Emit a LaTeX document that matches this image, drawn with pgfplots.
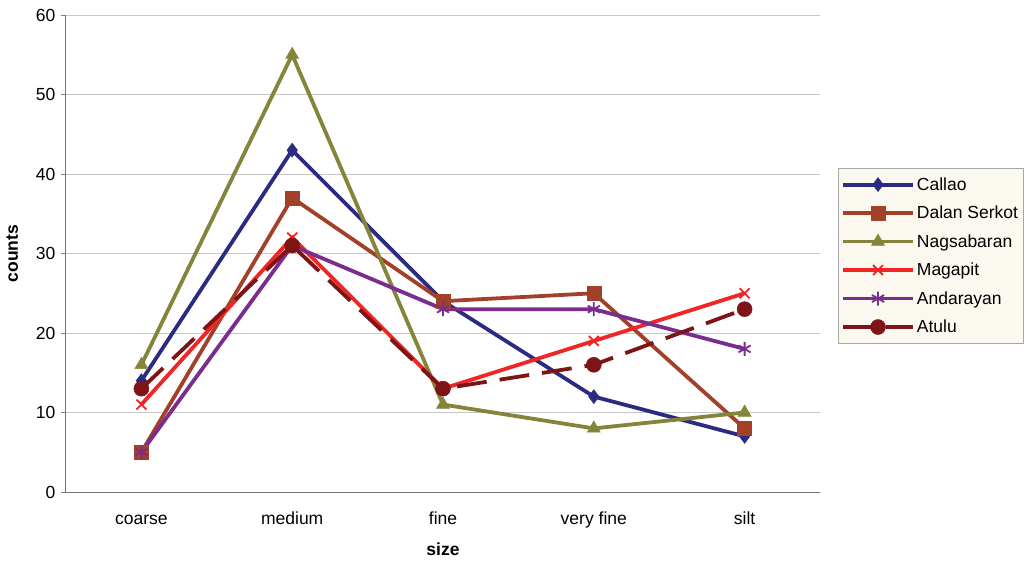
\documentclass[border=0pt]{standalone}
\usepackage{pgfplots}
\pgfplotsset{compat=1.18}
\usepackage{fontspec}
\setmainfont{Liberation Sans}
\definecolor{callao}{HTML}{2B2B82}
\definecolor{dalan}{HTML}{A3402A}
\definecolor{nags}{HTML}{84843A}
\definecolor{maga}{HTML}{F02525}
\definecolor{anda}{HTML}{7B2D8E}
\definecolor{atulu}{HTML}{7F1416}
\definecolor{legbg}{HTML}{FBF8F0}
\begin{document}
\begin{tikzpicture}[x=1pt,y=1pt]
\useasboundingbox (-66,-68) rectangle (966,492);
\begin{axis}[
  at={(0,0)}, anchor=south west,
  scale only axis, width=754pt, height=477pt,
  xmin=-0.5, xmax=4.5, ymin=0, ymax=60,
  xtick={0,1,2,3,4},
  xticklabels={coarse,medium,fine,very fine,silt},
  extra x ticks={0.5,1.5,2.5,3.5},
  extra x tick labels={},
  extra x tick style={major tick length=5pt, tick style={black!50, line width=0.8pt}, grid=none},
  ytick={0,10,...,60},
  axis x line*=bottom, axis y line*=left,
  axis line style={black!55, line width=1pt},
  ymajorgrids, grid style={black!22, line width=0.8pt},
  xtick style={draw=none},
  ytick style={black!50, line width=0.8pt},
  tick align=outside,
  major tick length=5pt,
  tick label style={font=\fontsize{17.5}{21}\selectfont},
  /pgf/number format/assume math mode=true,
  xticklabel style={anchor=base, yshift=-27pt},
  yticklabel style={xshift=-2pt},
  xlabel={\textbf{size}}, ylabel={\textbf{counts}},
  label style={font=\fontsize{17.5}{21}\selectfont},
  xlabel style={yshift=2pt},
  ylabel style={yshift=11pt},
  legend cell align=left,
  legend style={at={(1.0235,0.679)}, anchor=north west,
    fill=legbg, draw=black!35, line width=0.8pt,
    font=\fontsize{17.5}{21}\selectfont,
    row sep=10.3pt, inner xsep=3pt, inner ysep=7pt,
    nodes={inner xsep=2pt}},
  legend image code/.code={
    \draw[mark repeat=2,mark phase=2] plot coordinates {(0pt,0pt) (35pt,0pt) (70pt,0pt)};},
  every axis plot/.append style={line width=3.8pt},
]
\addplot[color=callao, mark=diamond*, mark size=7pt, mark options={solid, line width=0.5pt}]
  coordinates {(0,14) (1,43) (2,24) (3,12) (4,7)};
\addlegendentry{Callao}
\addplot[color=dalan, mark=square*, mark size=7pt, mark options={solid, line width=0.5pt}]
  coordinates {(0,5) (1,37) (2,24) (3,25) (4,8)};
\addlegendentry{Dalan Serkot}
\addplot[color=nags, mark=triangle*, mark size=7.5pt, mark options={solid, line width=0.5pt}]
  coordinates {(0,16) (1,55) (2,11) (3,8) (4,10)};
\addlegendentry{Nagsabaran}
\addplot[color=maga, mark=x, mark size=7pt, mark options={solid, line width=1.8pt}]
  coordinates {(0,11) (1,32) (2,13) (3,19) (4,25)};
\addlegendentry{Magapit}
\addplot[color=anda, mark=asterisk, mark size=7pt, mark options={solid, line width=1.8pt}]
  coordinates {(0,5) (1,31) (2,23) (3,23) (4,18)};
\addlegendentry{Andarayan}
\addplot[color=atulu, dash pattern=on 30pt off 13pt, mark=*, mark size=7.5pt, mark options={solid, line width=0.5pt}]
  coordinates {(0,13) (1,31) (2,13) (3,16) (4,23)};
\addlegendentry{Atulu}
\end{axis}
\end{tikzpicture}
\end{document}
